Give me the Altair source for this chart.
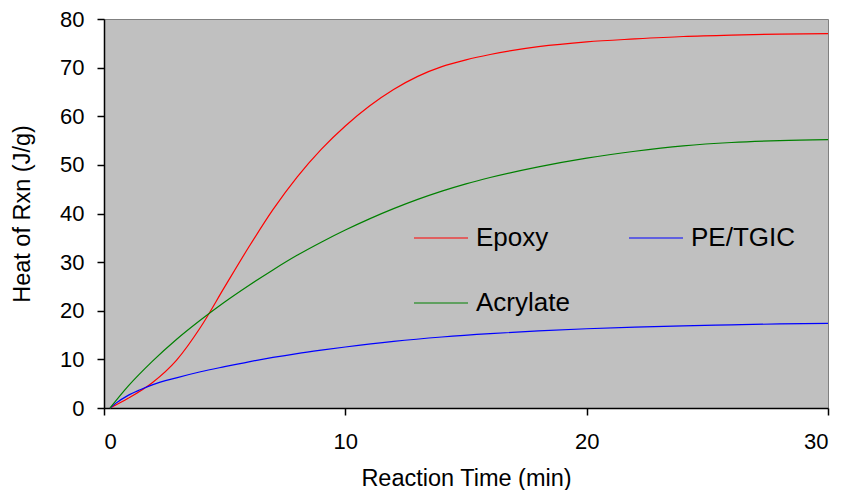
import altair as alt
import pandas as pd

# Reaction time (min) sample points per series
epoxy_t = [0.25, 1, 2, 3, 4, 5, 6, 7, 8, 9, 10, 11, 12, 13, 14, 15, 16, 18, 20, 22, 24, 26, 28, 30]
epoxy_h = [0, 2.0, 5.2, 9.8, 16.6, 24.9, 33.1, 40.8, 47.5, 53.2, 58.0, 62.1, 65.5, 68.2, 70.2, 71.6, 72.7, 74.3, 75.3, 75.9, 76.4, 76.7, 76.9, 77.0]

acrylate_t = [0.25, 1, 2, 3, 4, 5, 6, 7, 8, 9, 10, 11, 12, 13, 14, 15, 16, 18, 20, 22, 24, 26, 28, 30]
acrylate_h = [0, 4.5, 9.6, 14.1, 18.1, 21.8, 25.2, 28.4, 31.4, 34.1, 36.6, 38.9, 41.0, 42.9, 44.6, 46.1, 47.4, 49.6, 51.4, 52.8, 53.9, 54.6, 55.0, 55.2]

pe_t = [0.25, 0.5, 1, 1.5, 2, 3, 4, 5, 6, 7, 8, 9, 10, 12, 14, 16, 18, 20, 22, 24, 26, 28, 30]
pe_h = [0, 1.0, 2.6, 3.75, 4.75, 6.2, 7.45, 8.5, 9.5, 10.4, 11.2, 11.9, 12.55, 13.7, 14.6, 15.3, 15.85, 16.3, 16.65, 16.9, 17.1, 17.3, 17.4]

# legend fills column by column: Epoxy, Acrylate in column 1; PE/TGIC in column 2
series_names = ["Epoxy", "Acrylate", "PE/TGIC"]
series_colors = ["#FF0000", "#008000", "#0000FF"]

x_ticks = [0, 10, 20, 30]
y_ticks = [0, 10, 20, 30, 40, 50, 60, 70, 80]

rows = []
for name, ts, hs in [("Epoxy", epoxy_t, epoxy_h), ("PE/TGIC", pe_t, pe_h), ("Acrylate", acrylate_t, acrylate_h)]:
    for t, h in zip(ts, hs):
        rows.append({"time": t, "heat": h, "series": name})
df = pd.DataFrame(rows)

FONT = "Liberation Sans"

chart = alt.Chart(df).mark_line(interpolate="monotone", strokeWidth=1.2).encode(
    x=alt.X("time:Q", scale=alt.Scale(domain=[0, 30], nice=False),
            axis=alt.Axis(values=x_ticks, title="Reaction Time (min)", titlePadding=14,
                          labelPadding=16, format="d")),
    y=alt.Y("heat:Q", scale=alt.Scale(domain=[0, 80], nice=False),
            axis=alt.Axis(values=y_ticks, title="Heat of Rxn (J/g)", titlePadding=25,
                          labelPadding=13, format="d")),
    color=alt.Color("series:N",
                    scale=alt.Scale(domain=series_names, range=series_colors),
                    legend=alt.Legend(title=None, orient="none", legendX=309, legendY=191,
                                      columns=2, symbolType="stroke", symbolSize=2916,
                                      symbolStrokeWidth=1.2, labelFontSize=26, labelFont=FONT,
                                      labelColor="black", labelOffset=7, columnPadding=56,
                                      rowPadding=24, padding=0)),
    order=alt.Order("time:Q"),
).properties(
    width=724,
    height=389,
    autosize=alt.AutoSizeParams(type="none"),
    padding={"left": 96, "top": 11, "right": 8, "bottom": 82},
    background="white",
).configure_view(
    fill="#C0C0C0", stroke="#808080", strokeWidth=1,
).configure_axis(
    grid=False,
    domainColor="black", domainWidth=1.5,
    tickColor="black", tickWidth=1.5, tickSize=7,
    labelFont=FONT, labelFontSize=22, labelColor="black",
    titleFont=FONT, titleFontSize=23.5, titleFontWeight="normal", titleColor="black",
)

chart.save("out.html", embed_options={"renderer": "svg", "actions": False})
